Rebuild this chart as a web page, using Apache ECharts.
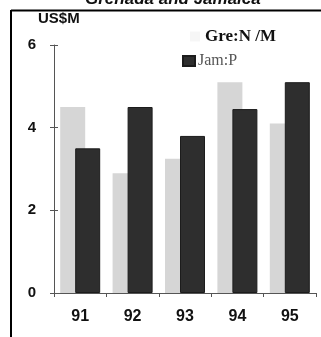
<!DOCTYPE html>
<html>
<head>
<meta charset="utf-8">
<script src="https://cdn.jsdelivr.net/npm/echarts@6/dist/echarts.min.js"></script>
<style>
  html, body { margin: 0; padding: 0; background: #fff; }
  #mycontainer { width: 321px; height: 337px; }
</style>
</head>
<body>
<div id="mycontainer"></div>
<script>
// 数据
var years = ['91', '92', '93', '94', '95'];
var greValues = [4.5, 2.9, 3.25, 5.1, 4.1];
var jamValues = [3.5, 4.5, 3.8, 4.45, 5.1];
var greName = 'Gre:N /M';
var jamName = 'Jam:P';

var dom = document.getElementById('mycontainer');
var chart = echarts.init(dom, null, { renderer: 'canvas' });

var option = {
    animation: false,
    title: {
        text: 'Grenada and Jamaica', // 顶部被裁掉的标题
        left: 80,
        top: -14,
        textStyle: {
            fontFamily: 'Liberation Sans',
            fontStyle: 'italic',
            fontWeight: 'bold',
            fontSize: 17,
            color: '#111'
        }
    },
    legend: [
        {
            data: [{ name: greName, icon: 'rect', itemStyle: { color: '#f6f6f6' } }],
            left: 185,
            top: 23,
            itemWidth: 10,
            itemHeight: 10,
            itemGap: 2,
            textStyle: {
                fontFamily: 'Liberation Serif',
                fontWeight: 'bold',
                fontSize: 17,
                color: '#111'
            }
        },
        {
            data: [{ name: jamName, icon: 'rect' }],
            left: 177,
            top: 48,
            itemWidth: 12,
            itemHeight: 10,
            textStyle: {
                fontFamily: 'Liberation Serif',
                fontSize: 16,
                color: '#555',
                padding: [0, 0, 0, -2]
            }
        }
    ],
    grid: {
        left: 54,
        right: 5,
        top: 45,
        bottom: 44
    },
    xAxis: {
        type: 'category',
        data: years,
        axisLine: { lineStyle: { color: '#555', width: 1 } },
        axisTick: { show: true, length: 4, inside: false, lineStyle: { color: '#555' } },
        axisLabel: {
            margin: 16,
            fontFamily: 'Liberation Sans',
            fontWeight: 'bold',
            fontSize: 16,
            color: '#111'
        }
    },
    yAxis: [
        {
            type: 'value',
            min: 0,
            max: 6,
            interval: 2,
            name: 'US$M',
            nameLocation: 'end',
            nameGap: 19,
            nameTextStyle: {
                fontFamily: 'Liberation Sans',
                fontWeight: 'bold',
                fontSize: 15,
                color: '#111',
                align: 'left',
                padding: [0, 0, 0, -16]
            },
            axisLine: { show: true, lineStyle: { color: '#555', width: 1 } },
            axisTick: { show: true, length: 4, lineStyle: { color: '#555' } },
            splitLine: { show: false },
            axisLabel: {
                margin: 18,
                fontFamily: 'Liberation Sans',
                fontWeight: 'bold',
                fontSize: 15,
                color: '#111'
            }
        },
        {
            // 内侧刻度，做出十字形刻度
            type: 'value',
            position: 'left',
            min: 0,
            max: 6,
            interval: 2,
            axisLine: { show: false },
            axisTick: { show: true, inside: true, length: 4, lineStyle: { color: '#555' } },
            axisLabel: { show: false },
            splitLine: { show: false }
        }
    ],
    series: [
        {
            name: greName,
            type: 'bar',
            data: greValues,
            barWidth: 25,
            barGap: '-40%',
            itemStyle: { color: '#d6d6d6' }
        },
        {
            name: jamName,
            type: 'bar',
            data: jamValues,
            barWidth: 25,
            itemStyle: { color: '#2e2e2e', borderColor: '#1c1c1c', borderWidth: 1 }
        }
    ],
    graphic: [
        {
            type: 'line',
            shape: { x1: 11, y1: 10.5, x2: 321, y2: 10.5 },
            style: { stroke: '#000', lineWidth: 2 }
        },
        {
            type: 'line',
            shape: { x1: 11, y1: 10, x2: 11, y2: 337 },
            style: { stroke: '#000', lineWidth: 2 }
        }
    ]
};

chart.setOption(option);
</script>
</body>
</html>
